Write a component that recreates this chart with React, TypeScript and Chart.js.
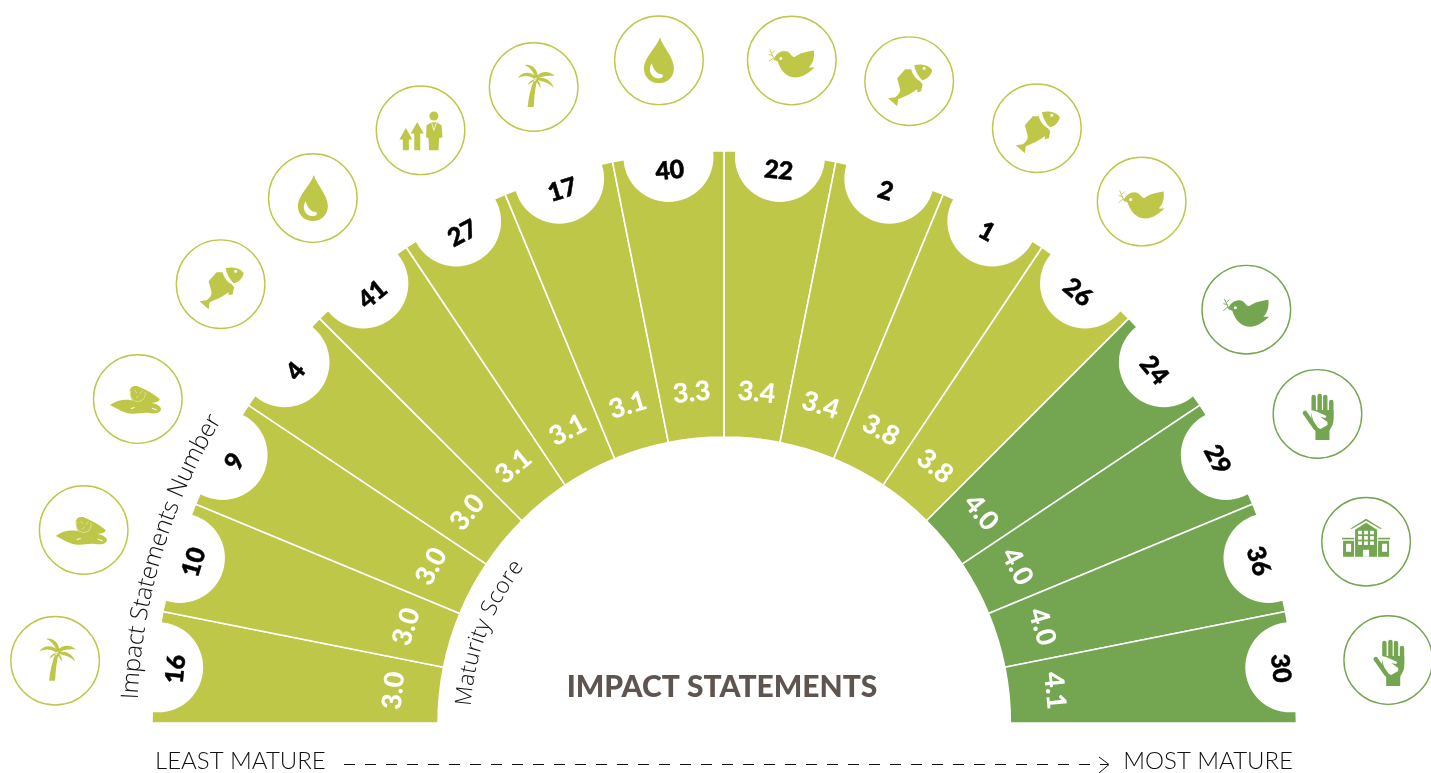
import React, { useEffect, useRef } from "react";
import { Chart, registerables } from "chart.js";

Chart.register(...registerables);

const impactStatementNumbers = ["16", "10", "9", "4", "41", "27", "17", "40", "22", "2", "1", "26", "24", "29", "36", "30"];
const scoreLabels = ["3.0", "3.0", "3.0", "3.0", "3.1", "3.1", "3.1", "3.3", "3.4", "3.4", "3.8", "3.8", "4.0", "4.0", "4.0", "4.1"];
const sliceWeights = [1, 1, 1, 1, 1, 1, 1, 1, 1, 1, 1, 1, 1, 1, 1, 1];
const sliceTiers = ["a", "a", "a", "a", "a", "a", "a", "a", "a", "a", "a", "a", "b", "b", "b", "b"];
const iconNames = ["palm", "fillet", "fillet", "fish", "drop", "growth", "palm", "drop", "bird", "fish", "fish", "bird", "bird", "hand", "building", "hand"];
const iconAngleNudge = [-0.3, -0.1, 0.8, 1.7, 1.3, 1.0, 0.2, 0, 0.2, -0.8, -0.4, -0.7, 1.0, 0.6, 1.1, 0.2];
const iconRadii = [672, 669, 670, 668, 667, 666, 664, 666, 666, 668, 672, 668, 666, 669, 667, 667];
const numberRadii = [552, 555, 556, 555, 555, 556, 558, 556, 556, 557, 558, 558, 557, 560, 559, 560];

const OLIVE = "#bec748";
const GREEN = "#74a550";
const tierColor = (t: string) => (t === "a" ? OLIVE : GREEN);

type C = CanvasRenderingContext2D;

function palm(c: C) {
  const p = new Path2D(
    "M-6,20 C-5,10 -3,0 1,-8 L3.5,-7 C1.5,1 0.5,10 0,20 Z " +
      "M2,-9 C0,-15 -4,-20 -9,-22 C-3,-23 3,-19 4,-12 Z " +
      "M1,-8 C-4,-12 -10,-12 -16,-9 C-11,-16 -3,-16 3,-10 Z " +
      "M2,-10 C7,-16 15,-17 21,-11 C15,-12 8,-11 3,-8 Z " +
      "M3,-9 C10,-10 18,-7 20,1 C16,-4 9,-6 3,-7 Z " +
      "M1,-8 C-2,-7 -5,-5 -6,-2 C-3,-4 -1,-6 2,-6 Z " +
      "M3,-8 C6,-5 7,-2 7,1 C5,-2 4,-4 2,-6 Z"
  );
  c.fill(p);
}
function fillet(c: C) {
  c.fill(new Path2D("M-8,-7 C-8,-14 -1,-14 3,-11.5 C9,-9 16,-5 22,0 C22,3 16,4 12,4 L-3,5 C-6,2 -8,-3 -8,-7 Z"));
  c.fill(new Path2D("M-28,6 C-20,0 -10,-0.5 -4,2 C4,5 14,3 18,5 C22,7 24,9 23,11 C21,15 15,14.5 12,14 C5,13 -2,15.5 -8,14.5 C-16,13.5 -22,8.5 -28,6 Z"));
  c.save();
  c.strokeStyle = "rgba(255,255,255,0.85)";
  c.lineWidth = 0.5;
  c.beginPath();
  c.arc(0, -5, 7.5, -0.3, 3.6);
  c.moveTo(-3, -9);
  c.lineTo(-1, -6);
  c.moveTo(5, -9);
  c.lineTo(2, -5);
  c.moveTo(-2, -1);
  c.lineTo(1, -3);
  c.stroke();
  c.lineWidth = 1;
  c.strokeStyle = "#fff";
  c.beginPath();
  c.moveTo(-7, 9.5);
  c.lineTo(-3, 8.5);
  c.moveTo(14, 9);
  c.lineTo(19, 11);
  c.stroke();
  c.restore();
}
function drop(c: C) {
  c.fill(new Path2D("M1,-23 C-2,-13 -15,-3 -15,8 C-15,17 -8,23 0,23 C8,23 15,17 15,8 C15,-3 4,-13 1,-23 Z"));
  c.save();
  c.fillStyle = "#fff";
  c.fill(new Path2D("M-7,3 C-12,10 -7,19 1,18 C4,18 5,15 3,14 C-2,14 -6,9 -7,3 Z"));
  c.restore();
}
function fish(c: C) {
  c.fill(new Path2D("M5,-16 C12,-18 20,-16 23,-11 C22,-6 18,-2 13,-1 C9,-5 6,-10 5,-16 Z"));
  c.fill(new Path2D("M-12,-3 L-4,-12 L2,-12 C3,-7 7,-2 11,0 L13.5,3 L12,10 L8,11 L8,8 C3,12 -4,15 -11,18 L-12,25 L-21,17 L-14,16 C-11,14 -9,11 -9,8 L-12,-3 Z"));
  c.save();
  c.fillStyle = "#fff";
  c.beginPath();
  c.arc(15, -13, 1.5, 0, Math.PI * 2);
  c.fill();
  c.restore();
}
function bird(c: C) {
  c.fill(new Path2D("M-18,-1 C-15,-10 -5,-12 -1,-6 C1,-3 3,-3 5,-5 C10,-8 16,-9 22,-10 C23,-3 21,3 17,7 L23,7 C18,11 12,17 3,17 C-6,17 -12,8 -14,1 Z"));
  c.save();
  c.lineWidth = 0.9;
  c.beginPath();
  c.moveTo(-17, 0);
  c.lineTo(-22, -11);
  c.moveTo(-19, -5);
  c.lineTo(-23, -6);
  c.moveTo(-20, -7);
  c.lineTo(-17, -10);
  c.moveTo(-18, -3);
  c.lineTo(-23, 1);
  c.stroke();
  c.fillStyle = "#fff";
  c.beginPath();
  c.arc(-11, -2, 1.5, 0, Math.PI * 2);
  c.fill();
  c.restore();
}
function growth(c: C) {
  const arrow = (x: number, top: number) =>
    `M${x},${top} L${x + 6.5},${top + 11.5} L${x + 3},${top + 11.5} L${x + 3},20 L${x - 3},20 L${x - 3},${top + 11.5} L${x - 6.5},${top + 11.5} Z `;
  c.fill(new Path2D(arrow(-14.7, -2.3) + arrow(-3.3, -8.3)));
  c.beginPath();
  c.arc(13.3, -14.3, 4.5, 0, Math.PI * 2);
  c.fill();
  c.fill(new Path2D("M6,-5 L11,-8 L16,-8 L21,-5 L22,7 L18.5,8 L18,20 L8.5,20 L8,8 L5.5,7 Z"));
  c.save();
  c.strokeStyle = "#fff";
  c.lineWidth = 0.8;
  c.beginPath();
  c.moveTo(11, -8);
  c.lineTo(13.3, 0);
  c.lineTo(16, -8);
  c.stroke();
  c.restore();
}
function hand(c: C) {
  const col = c.fillStyle as string;
  c.save();
  c.lineCap = "round";
  c.lineWidth = 4.4;
  c.strokeStyle = col;
  const fingers: number[][] = [[-3.8, -17], [2.2, -18], [7.8, -17], [13.8, -12]];
  for (const [x, top] of fingers) {
    c.beginPath();
    c.moveTo(x, top);
    c.lineTo(x, 4);
    c.stroke();
  }
  c.restore();
  c.fill(new Path2D("M-6,-4 L16,-4 L16,6 C16,11 13,14 12,17 L12,26 L-2,26 L-2,17 C-4,14 -6,8 -6,-4 Z"));
  c.save();
  c.strokeStyle = "#fff";
  c.fillStyle = "#fff";
  c.fill(new Path2D("M-7,-4 L-2,-3 L9,2 L8,4 L3,3 L10,8 L10,11 L3,15 L-3,12 Z"));
  c.lineCap = "round";
  c.strokeStyle = col;
  c.lineWidth = 4.5;
  c.beginPath();
  c.moveTo(-12.5, -1);
  c.lineTo(-2, 14);
  c.stroke();
  c.restore();
}
function building(c: C) {
  c.fill(new Path2D("M0,-23 L16,-13 L14,-13 L0,-21 L-14,-13 L-16,-13 Z"));
  c.fill(new Path2D("M0,-19 L11,-12 L11,15 L-11,15 L-11,-12 Z"));
  c.fillRect(-24, -4, 12, 1.6);
  c.fillRect(12, -4, 12, 1.6);
  c.fillRect(-23, -1, 11, 16);
  c.fillRect(12, -1, 11, 16);
  c.save();
  c.fillStyle = "#fff";
  for (let r = 0; r < 3; r++) for (let k = 0; k < 3; k++) c.fillRect(-8 + k * 6, -11 + r * 5.3, 3.8, 3.6);
  c.fillRect(-3, 8, 6, 7);
  c.fillRect(-20, 2, 5, 8);
  c.fillRect(16, 2, 5, 8);
  c.restore();
}
const iconPainters: Record<string, (c: C) => void> = { palm, fillet, drop, fish, bird, growth, hand, building };

function arcText(c: C, text: string, cx: number, cy: number, r: number, startDeg: number, endDeg: number, font: string) {
  c.save();
  c.font = font;
  c.textAlign = "left";
  c.textBaseline = "alphabetic";
  const chars = Array.from(text);
  const natural = chars.reduce((s, ch) => s + c.measureText(ch).width, 0);
  const spacing = (((endDeg - startDeg) * Math.PI) / 180 * r - natural) / (chars.length - 1);
  let a = (startDeg * Math.PI) / 180;
  for (const ch of chars) {
    const w = c.measureText(ch).width;
    const canvasAngle = -Math.PI + a + w / 2 / r;
    c.save();
    c.translate(cx + r * Math.cos(canvasAngle), cy + r * Math.sin(canvasAngle));
    c.rotate(canvasAngle + Math.PI / 2);
    c.fillText(ch, -w / 2, 0);
    c.restore();
    a += (w + spacing) / r;
  }
  c.restore();
}

const decorPlugin = {
  id: "decor",
  afterDatasetsDraw(chart: any) {
    const c: C = chart.ctx;
    const arcs = chart.getDatasetMeta(0).data;
    const cx = arcs[0].x;
    const cy = arcs[0].y;
    c.save();
    const pol = (a: number, r: number) => [cx + r * Math.cos(a), cy + r * Math.sin(a)];
    arcs.forEach((arc: any) => {
      const mid = (arc.startAngle + arc.endAngle) / 2;
      const [x, y] = pol(mid, arc.outerRadius - 3.5);
      c.fillStyle = "#fff";
      c.beginPath();
      c.arc(x, y, 45, 0, Math.PI * 2);
      c.fill();
    });
    arcs.forEach((arc: any, i: number) => {
      const mid = (arc.startAngle + arc.endAngle) / 2;
      const rot = mid + Math.PI / 2;
      c.textAlign = "center";
      c.textBaseline = "middle";
      let [x, y] = pol(mid, numberRadii[i]);
      c.save();
      c.translate(x, y);
      c.rotate(rot);
      c.fillStyle = "#000";
      c.strokeStyle = "#000";
      c.lineWidth = 0.5;
      c.font = "900 25px Lato";
      c.fillText(impactStatementNumbers[i], 0, 1);
      c.strokeText(impactStatementNumbers[i], 0, 1);
      c.restore();
      [x, y] = pol(mid, 333);
      c.save();
      c.translate(x, y);
      c.rotate(rot);
      c.fillStyle = "#fff";
      c.font = "900 27px Lato";
      c.fillText(scoreLabels[i], 0, 1);
      c.restore();

      const col = tierColor(sliceTiers[i]);
      const ia = mid + (iconAngleNudge[i] * Math.PI) / 180;
      const [ix, iy] = pol(ia, iconRadii[i]);
      c.strokeStyle = col;
      c.lineWidth = 1.4;
      c.beginPath();
      c.arc(ix, iy, 44.3, 0, Math.PI * 2);
      c.stroke();
      c.save();
      c.translate(ix, iy);
      c.fillStyle = col;
      c.strokeStyle = col;
      iconPainters[iconNames[i]](c);
      c.restore();
    });
    c.fillStyle = "#111";
    arcText(c, "Impact Statements Number", cx, cy, 587, 2.3, 31.1, "300 24px 'Open Sans'");
    arcText(c, "Maturity Score", cx, cy, 254, 3.8, 38, "300 22.5px 'Open Sans'");

    c.textBaseline = "alphabetic";
    c.textAlign = "center";
    c.fillStyle = "#5f5550";
    c.font = "900 30px Lato";
    c.fillText("IMPACT STATEMENTS", 722, 697);

    c.fillStyle = "#111";
    c.font = "300 24px Lato";
    c.textAlign = "left";
    c.fillText("LEAST MATURE", 155, 769);
    c.textAlign = "right";
    c.fillText("MOST MATURE", 1293, 769);

    c.strokeStyle = "#111";
    c.lineWidth = 1;
    c.setLineDash([11, 10]);
    c.beginPath();
    c.moveTo(344, 764.5);
    c.lineTo(1108, 764.5);
    c.stroke();
    c.setLineDash([]);
    c.beginPath();
    c.moveTo(1099, 757);
    c.lineTo(1109, 764.5);
    c.lineTo(1099, 773);
    c.stroke();
    c.restore();
  },
};

export default function App() {
  const ref = useRef<HTMLCanvasElement>(null);
  useEffect(() => {
    const chart = new Chart(ref.current!, {
      type: "doughnut",
      data: {
        labels: impactStatementNumbers,
        datasets: [
          {
            data: sliceWeights,
            backgroundColor: sliceTiers.map((t) => tierColor(t)),
            borderColor: "#ffffff",
            borderWidth: 1.6,
          },
        ],
      },
      options: {
        responsive: false,
        animation: false,
        rotation: -90,
        circumference: 180,
        cutout: "50%",
        layout: { padding: { left: 151.1, right: 133.7, top: 150, bottom: 49.1 } },
        plugins: { legend: { display: false }, tooltip: { enabled: false } },
      },
      plugins: [decorPlugin],
    } as any);
    return () => chart.destroy();
  }, []);
  return (
    <div style={{ position: "absolute", left: 0, top: 0, width: 1431, height: 773, background: "#fff" }}>
      <canvas ref={ref} width={1431} height={773} style={{ display: "block" }} />
    </div>
  );
}
